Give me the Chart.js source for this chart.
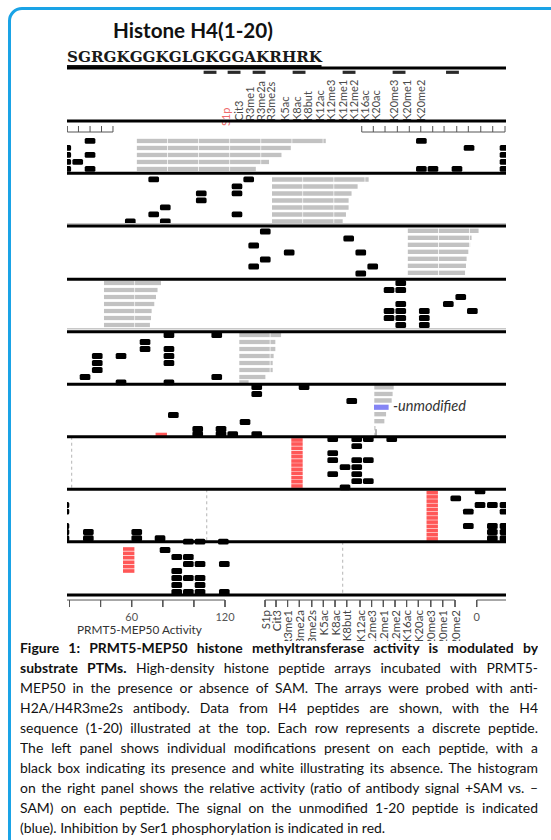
<!DOCTYPE html>
<html>
<head>
<meta charset="utf-8">
<title>Histone H4(1-20)</title>
<script src="https://cdn.jsdelivr.net/npm/chart.js@4/dist/chart.umd.min.js"></script>
<style>
html,body{margin:0;padding:0;background:#fff;}
body{width:551px;height:840px;position:relative;overflow:hidden;font-family:Lato,"DejaVu Sans",sans-serif;}
#frame{position:absolute;left:8px;top:7px;width:640px;height:940px;border:3px solid #1aa3e6;border-radius:14px;}
.txt{position:absolute;white-space:nowrap;}
#title{font-weight:bold;color:#111;font-size:21px;}
#seq{font-family:"DejaVu Serif",serif;font-weight:bold;font-size:14px;line-height:15px;color:#1a1a1a;transform-origin:0 0;border-bottom:2px solid #151515;}
.rot{position:absolute;transform-origin:0 0;transform:rotate(-90deg);white-space:nowrap;font-size:11px;line-height:11px;height:11px;}
#botClip{position:absolute;left:0;top:600px;width:551px;height:41px;overflow:hidden;}
#caption{position:absolute;left:20px;top:638px;width:518px;color:#111;font-size:14px;}
.cl{text-align:justify;text-align-last:justify;line-height:20px;height:20px;overflow:hidden;}
.cl.last{text-align-last:left;}
#chart{position:absolute;left:67px;top:60px;width:439px;height:550px;}
</style>
</head>
<body>
<div id="frame"></div>
<div id="title" class="txt"></div>
<div id="seq" class="txt"></div>
<div id="topLabels"></div>
<div id="botClip"></div>
<div id="numLabels"></div>
<div id="axisTitle" class="txt" style="color:#333;font-size:12.5px;"></div>
<div id="unmod" class="txt" style="color:#333;font-style:italic;font-size:13px;"></div>
<canvas id="chart" width="439" height="550"></canvas>
<div id="caption">
<div class="cl"><span><b>Figure 1: PRMT5-MEP50 histone methyltransferase activity is modulated by</b></span></div>
<div class="cl"><span><b>substrate PTMs.</b> High-density histone peptide arrays incubated with PRMT5-</span></div>
<div class="cl"><span>MEP50 in the presence or absence of SAM. The arrays were probed with anti-</span></div>
<div class="cl"><span>H2A/H4R3me2s antibody. Data from H4 peptides are shown, with the H4</span></div>
<div class="cl"><span>sequence (1-20) illustrated at the top. Each row represents a discrete peptide.</span></div>
<div class="cl"><span>The left panel shows individual modifications present on each peptide, with a</span></div>
<div class="cl"><span>black box indicating its presence and white illustrating its absence. The histogram</span></div>
<div class="cl"><span>on the right panel shows the relative activity (ratio of antibody signal +SAM vs. –</span></div>
<div class="cl"><span>SAM) on each peptide. The signal on the unmodified 1-20 peptide is indicated</span></div>
<div class="cl last"><span>(blue). Inhibition by Ser1 phosphorylation is indicated in red.</span></div>
</div>
<script>
// ================= DATA =================
const titleText = 'Histone H4(1-20)';
const sequence = 'SGRGKGGKGLGKGGAKRHRK';
const modLabels = ['S1p','Cit3','R3me1','R3me2a','R3me2s','K5ac','K8ac','K8but','K12ac','K12me3','K12me1','K12me2','K16ac','K20ac','K20me3','K20me1','K20me2'];
const activityTicks = [20, 40, 60, 80, 100, 120];
const activityTickLabels = ['', '', '60', '', '', '120'];
const zeroTickLabel = '0';
const axisTitleText = 'PRMT5-MEP50 Activity';
const unmodifiedText = '-unmodified';

// Left panel: modification present on a peptide  [peptide row, modification column]
const presentMods = [
  [2.7,1.89],[2.7,29.06],
  [3.7,-0.1],[3.7,32.97],[3.7,35.92],
  [4.7,-0.1],[4.7,1.89],[4.7,35.92],
  [5.7,-0.1],[5.7,0.88],[5.7,35.92],
  [6.7,-0.1],[6.7,1.89],[6.7,29.06],[6.7,30.01],[6.7,31.98],[6.7,35.92],
  [8.2,7.11],[8.2,14.90],[9.2,13.94],[10.2,11.01],[10.2,13.94],[11.2,11.01],[12.2,8.06],[13.2,7.11],[13.2,13.94],[14.2,5.19],[14.2,8.06],
  [15.65,16.26],[16.65,23.10],[17.65,15.31],[18.65,18.22],[18.65,24.09],[19.65,16.26],[20.65,15.31],[20.65,25.07],[21.65,24.09],
  [23,27.37],[24,26.41],[24,27.37],[25,32.29],[26,27.37],[26,31.27],[27,26.41],[27,27.37],[27,29.30],[27,33.24],[28,26.41],[28,27.37],[28,29.30],[29,27.37],[29,29.30],
  [30.43,8.36],[30.43,12.28],[31.43,6.40],[32.43,6.40],[32.43,8.36],[33.43,2.48],[33.43,4.43],[33.43,8.36],[34.43,2.48],[34.43,8.36],[35.43,2.48],[36.43,1.48],[36.43,12.28],[37.2,4.43],[37.2,8.36],
  [37.85,15.56],[37.85,19.44],[38.85,15.56],[39.85,23.35],[41.85,8.72],[42.85,14.60],[43.85,10.72],[43.85,12.63],[44.6,10.72],[44.6,12.63],[44.6,13.59],[44.6,15.56],
  [45.3,21.79],[45.3,23.76],[45.3,24.71],[45.3,26.63],[46.3,23.76],[47.3,21.79],[48.3,21.79],[48.3,23.76],[48.3,24.71],[49.3,22.80],[49.3,23.76],[50.3,21.79],[50.3,23.76],[51.3,23.76],[51.3,24.71],[52.2,22.80],
  [52.75,33.87],[53.76,31.88],
  [54.71,-0.25],[54.71,33.87],[54.71,34.88],[54.71,35.92],
  [55.67,-0.25],[55.67,32.91],[55.67,35.92],
  [57.71,-0.25],[57.71,32.91],[57.71,34.88],[57.71,35.92],
  [58.57,-0.25],[58.57,1.75],[58.57,5.72],[58.57,34.88],[58.57,35.92],
  [59.47,-0.25],[59.47,1.75],[59.47,5.72],[59.47,7.63],[59.47,34.88],[59.47,35.92],
  [59.95,9.95],[59.95,10.91],[59.95,12.82],
  [61.15,8.04],[62.15,9.00],[62.15,9.95],[63.15,9.95],[63.15,10.91],[63.15,12.90],[64.15,9.00],[65.15,9.00],[65.15,9.95],[65.15,10.91],[66.15,9.00],[66.15,10.91],[67.15,9.00],[67.15,9.95],[67.15,10.91],[67.15,12.90]
];

// Ser1-phosphorylated peptides (inhibited, red)  [peptide row, column]
const inhibitedCells = [
  [44.65,7.73],
  [45.43,18.86],[46.0,18.86],[46.61,18.86],[47.24,18.86],[47.81,18.86],[48.43,18.86],[49.0,18.86],[49.61,18.86],[50.19,18.86],[50.81,18.86],[51.39,18.86],[52.0,18.86],
  [52.96,29.95],[53.56,29.95],[54.16,29.95],[54.76,29.95],[55.36,29.95],[55.96,29.95],[56.56,29.95],[57.16,29.95],[57.76,29.95],[58.36,29.95],[58.96,29.95],[59.56,29.95],
  [61.0,5.06],[61.62,5.06],[62.24,5.06],[62.9,5.06],[63.52,5.06],[64.14,5.06]
];

// Histogram: relative activity per peptide (rows) in each block
const histRowsA = [2.7,3.7,4.7,5.7,6.7];
const histValsA = [122,99.5,93.5,85.5,77];
const histRowsB = [8.2,9.2,10.2,11.2,12.2,13.2,14.2];
const histValsB = [62.6,55.5,51.6,49.7,49.7,48,45.9];
const histRowsC = [15.55,16.55,17.55,18.55,19.55,20.55,21.55];
const histValsC = [46,41.5,40.1,39.4,38.3,37.9,37.3];
const histRowsD = [23,24,25,26,27,28,29];
const histValsD = [37.1,34.9,33.9,32.8,31.1,30.7,30.0];
const histRowsE = [30.43,31.43,32.43,33.43,34.43,35.43,36.43,37.2];
const histValsE = [27.3,23.6,23.6,22.5,21.9,21.9,17.2,6.4];
const histRowsF = [37.9,38.85,39.8,41.75,42.75,43.75,44.7];
const histValsF = [12.9,12.2,11.6,8.0,6.9,1.1,1.1];
const unmodifiedRow = 40.75;
const unmodifiedVal = 9.0;

// ================= LAYOUT (positions / styles) =================
const PX_LEFT = 67, PX_TOP = 60, W = 439, H = 550;
const COL_MAX = 36;
const ROW_MIN = -62/7, ROW_MAX = 488/7;
const colToPx = c => PX_LEFT + c * W / COL_MAX;
const ACT_TO_COL = 1.555 * COL_MAX / W;   // activity unit -> column unit
const ACT_ORIGIN_COL = -2.345;            // activity 0 on the bottom scale
const histStart = {A:5.72, B:16.81, C:27.94, D:3.03, E:14.13, F:25.2};
const bandRules = [-7.71, -0.14, 7.33, 14.86, 22.47, 29.96, 37.47, 44.96, 52.47, 59.96, 67.57];
const faintRules = [14.53, 29.53];
const topDashCols = [11.73, 13.70, 15.75, 19.03, 23.13, 27.23, 31.61];
const topTickColsL = [0.03, 0.94, 1.89, 2.83, 3.77];
const topTickColsR = [24.17,25.12,26.08,27.09,28.07,29.01,29.99,30.92,31.96,32.91,33.93,34.91,35.92];
const modTickCols = [16.24,17.14,18.09,19.05,20.07,21.02,21.98,22.94,24.03,24.98,25.94,26.90,27.85,28.81,29.83,30.81,31.82];
const zeroTickCol = 33.6;
const dashedGuides = [[0.385,44.96,52.47],[11.46,52.47,59.96],[22.61,59.96,67.57]];
const topLabelX = [225.7,238.3,249.3,260,270.7,284,296,307.3,319.3,330.7,342.7,353.3,364,375,393.3,406.7,420];
const BOX_HALF = 0.41;

// ================= BUILD =================
function segs(list){ const out=[]; list.forEach(([a,b])=>{out.push({x:a[0],y:a[1]},{x:b[0],y:b[1]},{x:b[0],y:null});}); return out; }
function histSegments(rows, vals, start){
  const out=[];
  rows.forEach((r,i)=>{ const v=vals[i];
    for(let a=0;a<v;a+=20){ const b=Math.min(a+20,v); out.push({y:r,x:[start+a*ACT_TO_COL,start+b*ACT_TO_COL]}); }
  });
  return out;
}
const grayData = [].concat(
  histSegments(histRowsA,histValsA,histStart.A), histSegments(histRowsB,histValsB,histStart.B),
  histSegments(histRowsC,histValsC,histStart.C), histSegments(histRowsD,histValsD,histStart.D),
  histSegments(histRowsE,histValsE,histStart.E), histSegments(histRowsF,histValsF,histStart.F));

const ruleLines = segs(bandRules.map(r=>[[0,r],[COL_MAX,r]]));
const faintLines = segs(faintRules.map(r=>[[0,r],[COL_MAX,r]]));
const topTickBase = 1.43, topTickTop = 0.57;
const topTicks = segs([
  [[topTickColsL[0],topTickBase],[topTickColsL[topTickColsL.length-1],topTickBase]],
  [[topTickColsR[0],topTickBase],[topTickColsR[topTickColsR.length-1],topTickBase]],
  ...topTickColsL.concat(topTickColsR).map(c=>[[c,topTickBase],[c,topTickTop]])
]);
const actTickCols = activityTicks.map(v=>ACT_ORIGIN_COL + v*ACT_TO_COL);
const botBase = 68.29, botEnd = 69.29;
const bottomAxis = segs([
  [[0,botBase],[actTickCols[actTickCols.length-1],botBase]],
  [[modTickCols[0],botBase],[modTickCols[modTickCols.length-1],botBase]],
  [[zeroTickCol,botBase],[COL_MAX,botBase]],
  ...actTickCols.concat(modTickCols,[zeroTickCol]).map(c=>[[c,botBase],[c,botEnd]])
]);
const guideLines = segs(dashedGuides.map(([c,a,b])=>[[c,a],[c,b]]));
const shortGuide = segs([[[25.34,43.9],[25.34,44.96]]]);

const lineDs = (data,color,width,extra) => Object.assign({type:'line',data,borderColor:color,borderWidth:width,pointRadius:0,fill:false,tension:0,order:0,spanGaps:false},extra||{});
const barDs = (data,color,thick,extra) => Object.assign({type:'bar',indexAxis:'y',grouped:false,data,backgroundColor:color,barThickness:thick,borderWidth:0,borderSkipped:false,order:1},extra||{});

new Chart(document.getElementById('chart'), {
  type:'bar',
  data:{datasets:[
    lineDs(ruleLines,'#000',3),
    lineDs(faintLines,'#c8c8c8',1.5,{order:0.5}),
    lineDs(topTicks,'#555',1),
    lineDs(bottomAxis,'#555',1),
    lineDs(guideLines,'#b4b4b4',1,{borderDash:[3,3]}),
    lineDs(shortGuide,'#aaa',1),
    barDs(topDashCols.map(c=>({y:-7.1,x:[c-0.5,c+0.5]})),'#2a2a2a',2.5),
    barDs(presentMods.map(([r,c])=>({y:r,x:[c-BOX_HALF,c+BOX_HALF]})),'#000',5.2,{borderRadius:1.5}),
    barDs(inhibitedCells.map(([r,c])=>({y:r,x:[c-0.44,c+0.44]})),'#ff5757',3),
    barDs([{y:unmodifiedRow,x:[histStart.F,histStart.F+unmodifiedVal*ACT_TO_COL]}],'#8484f4',4.5),
    barDs(grayData,'#c2c2c2',4.5,{order:2,borderColor:'#fff',borderWidth:{left:0,right:1,top:0,bottom:0}})
  ]},
  options:{
    responsive:false, animation:false, devicePixelRatio:1, events:[],
    layout:{padding:0},
    plugins:{legend:{display:false},tooltip:{enabled:false},title:{display:false}},
    scales:{
      x:{type:'linear',min:0,max:COL_MAX,display:false,offset:false,grid:{offset:false}},
      y:{type:'linear',min:ROW_MIN,max:ROW_MAX,reverse:true,display:false,offset:false,grid:{offset:false}}
    }
  }
});

// ================= TEXT =================
function fitWidth(el, target){ const w=el.getBoundingClientRect().width; const fs=parseFloat(getComputedStyle(el).fontSize); el.style.fontSize=(fs*target/w)+'px'; return fs*target/w; }
function placeLato(el, x, baseline){ const fs=parseFloat(el.style.fontSize||getComputedStyle(el).fontSize); el.style.lineHeight=fs+'px'; el.style.left=x+'px'; el.style.top=(baseline-0.887*fs)+'px'; }

const t=document.getElementById('title'); t.textContent=titleText; fitWidth(t,160); placeLato(t,113,38.5);
const s=document.getElementById('seq'); s.textContent=sequence; s.style.left='67px'; s.style.top='50px';
{ const w=s.getBoundingClientRect().width; s.style.transform='scaleX('+(255/w)+')'; }

const tl=document.getElementById('topLabels');
modLabels.forEach((m,i)=>{ const d=document.createElement('div'); d.className='rot'; d.textContent=m;
  d.style.color = i===0 ? '#ef6b6b' : '#4a4a4a';
  d.style.left=(topLabelX[i]-5.5)+'px'; d.style.top=(i===0?126:121)+'px'; tl.appendChild(d); });

const bc=document.getElementById('botClip');
modLabels.forEach((m,i)=>{ const d=document.createElement('div'); d.className='rot'; d.textContent=m;
  d.style.color='#444'; d.style.width='70px'; d.style.textAlign='right'; d.style.fontSize='11.5px';
  d.style.left=(colToPx(modTickCols[i])-5.5)+'px'; d.style.top=(10+70)+'px'; bc.appendChild(d); });

const nl=document.getElementById('numLabels');
function numLabel(txt,x){ const d=document.createElement('div'); d.className='txt'; d.textContent=txt; d.style.fontSize='11px'; d.style.color='#555'; nl.appendChild(d);
  const w=d.getBoundingClientRect().width; placeLato(d,x-w/2,620.5); }
activityTickLabels.forEach((l,i)=>{ if(l) numLabel(l,colToPx(actTickCols[i])); });
numLabel(zeroTickLabel,colToPx(zeroTickCol));

const at=document.getElementById('axisTitle'); at.textContent=axisTitleText; fitWidth(at,125); placeLato(at,77,634);
const um=document.getElementById('unmod'); um.textContent=unmodifiedText; fitWidth(um,73); placeLato(um,393,411.5);

// caption fitting
const spans=document.querySelectorAll('#caption .cl span');
let maxW=0; spans.forEach(sp=>{ sp.style.whiteSpace='nowrap'; maxW=Math.max(maxW,sp.getBoundingClientRect().width); });
const cap=document.getElementById('caption'); cap.style.fontSize=(14*516/maxW)+'px';
spans.forEach(sp=>{ sp.style.whiteSpace='normal'; });
</script>
</body>
</html>
